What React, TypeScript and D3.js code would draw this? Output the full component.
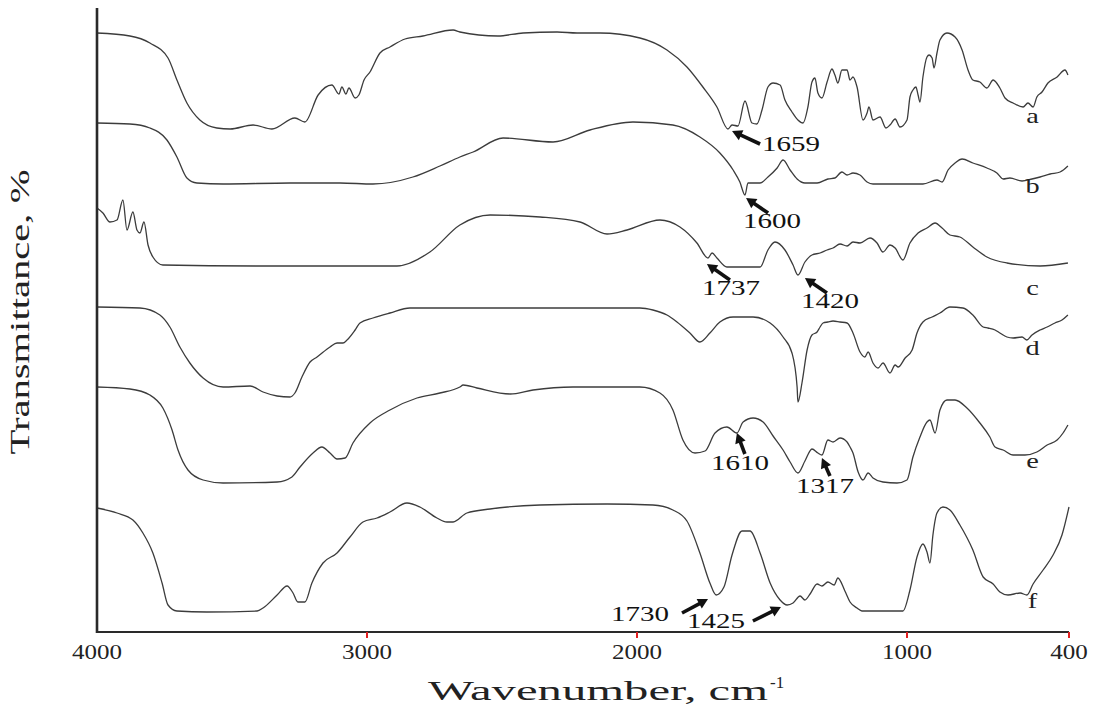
import React from "react";
import * as d3 from "d3";

// Wavenumber (cm-1) and relative transmittance (arbitrary offset units)
const CURVE_A: [number, number][] = [
  [4000,599],[3878,596],[3804,589],[3737,574],[3704,552],[3667,529],[3619,512],[3556,504],[3507,503],[3422,507],[3352,503],[3267,514],[3230,510],[3181,537],[3130,547],[3104,538],[3093,545],[3078,538],[3067,544],[3044,534],[3030,537],[3011,552],[2989,560],[2952,579],[2915,585],[2859,593],[2793,596],[2681,602],[2656,600],[2515,596],[2422,599],[2296,600],[2222,599],[2137,599],[1989,594],[1889,582],[1815,565],[1756,545],[1704,525],[1663,503],[1648,507],[1626,506],[1600,531],[1574,509],[1556,508],[1537,522],[1515,545],[1496,549],[1470,547],[1452,532],[1426,520],[1404,512],[1385,509],[1367,525],[1352,550],[1341,554],[1330,539],[1315,534],[1296,550],[1278,563],[1267,557],[1256,549],[1241,562],[1222,562],[1211,552],[1200,555],[1185,545],[1163,512],[1148,519],[1141,525],[1126,512],[1100,515],[1078,504],[1063,507],[1044,513],[1026,505],[1000,512],[989,535],[978,542],[967,545],[959,537],[952,530],[941,555],[926,575],[918,577],[907,574],[900,564],[889,579],[878,592],[852,599],[822,595],[796,582],[774,562],[756,552],[730,550],[704,544],[681,552],[656,544],[637,534],[607,529],[570,525],[552,529],[533,525],[519,535],[500,540],[478,549],[444,555],[415,562],[404,557]
];
const CURVE_B: [number, number][] = [
  [4000,509],[3878,508],[3804,504],[3741,492],[3704,475],[3667,454],[3630,449],[3533,448],[3285,449],[3100,449],[2978,448],[2830,455],[2730,466],[2656,475],[2607,480],[2496,494],[2311,490],[2174,502],[2015,510],[1867,507],[1767,495],[1693,479],[1644,462],[1619,450],[1600,437],[1589,449],[1544,449],[1515,455],[1481,464],[1459,472],[1433,462],[1407,453],[1378,449],[1333,449],[1293,453],[1267,454],[1241,460],[1222,457],[1200,459],[1174,457],[1148,450],[1126,448],[941,448],[889,452],[870,450],[848,462],[822,469],[796,473],[756,469],[704,464],[667,459],[644,453],[619,454],[574,451],[537,453],[507,455],[470,458],[433,460],[404,466]
];
const CURVE_C: [number, number][] = [
  [4000,424],[3978,419],[3952,410],[3926,412],[3904,432],[3889,402],[3867,420],[3852,402],[3841,399],[3826,410],[3811,387],[3793,375],[3756,367],[3407,366],[2889,366],[2767,380],[2656,407],[2544,417],[2359,415],[2211,410],[2111,398],[2037,402],[1915,412],[1841,405],[1778,389],[1737,374],[1722,379],[1704,374],[1667,365],[1544,365],[1515,382],[1489,390],[1452,382],[1422,367],[1404,357],[1378,370],[1352,377],[1322,379],[1296,382],[1274,384],[1248,388],[1222,386],[1200,390],[1174,389],[1137,394],[1111,389],[1089,380],[1063,387],[1044,384],[1015,372],[989,389],[959,399],[926,404],[896,409],[870,404],[841,397],[804,395],[756,385],[704,375],[630,369],[507,366],[404,369]
];
const CURVE_D: [number, number][] = [
  [4000,325],[3841,324],[3767,317],[3730,305],[3693,285],[3656,269],[3607,254],[3533,245],[3433,246],[3385,240],[3333,236],[3285,235],[3267,239],[3241,255],[3211,270],[3185,275],[3137,285],[3111,289],[3089,289],[3074,292],[3044,302],[3026,309],[2978,314],[2915,319],[2841,324],[2741,324],[2481,324],[2237,324],[1989,324],[1941,322],[1889,317],[1852,310],[1804,299],[1767,290],[1730,299],[1693,310],[1644,315],[1570,315],[1507,309],[1459,295],[1426,279],[1407,245],[1404,230],[1389,249],[1370,282],[1352,297],[1333,300],[1322,305],[1311,309],[1293,310],[1274,311],[1248,310],[1222,309],[1200,299],[1174,280],[1156,275],[1144,280],[1126,269],[1107,264],[1089,269],[1063,259],[1044,267],[1033,265],[1007,274],[981,282],[963,299],[941,310],[907,315],[878,319],[841,325],[793,324],[756,317],[718,305],[700,304],[674,302],[656,299],[630,295],[607,294],[574,295],[556,292],[537,297],[507,302],[481,305],[452,309],[426,312],[404,317]
];
const CURVE_E: [number, number][] = [
  [4000,245],[3878,243],[3804,237],[3756,224],[3722,202],[3700,182],[3663,162],[3607,152],[3533,149],[3333,150],[3278,155],[3248,165],[3200,179],[3167,185],[3137,179],[3111,173],[3081,174],[3052,189],[2989,209],[2915,222],[2815,234],[2730,239],[2656,245],[2644,247],[2593,244],[2470,238],[2385,242],[2237,245],[1989,245],[1915,239],[1867,222],[1830,192],[1785,179],[1748,181],[1711,199],[1667,205],[1630,199],[1607,210],[1570,214],[1533,210],[1496,196],[1459,182],[1433,170],[1404,159],[1378,171],[1352,183],[1330,179],[1315,177],[1293,192],[1274,190],[1248,194],[1222,190],[1211,185],[1200,179],[1181,160],[1163,152],[1144,159],[1126,154],[1089,150],[1037,149],[1000,152],[978,175],[952,195],[926,210],[915,212],[896,199],[878,222],[852,232],[822,232],[778,224],[730,209],[693,195],[674,185],[644,182],[607,177],[563,177],[519,180],[481,187],[444,192],[422,199],[404,207]
];
const CURVE_F: [number, number][] = [
  [4000,124],[3926,119],[3867,112],[3830,99],[3793,79],[3759,49],[3737,27],[3704,21],[3593,20],[3407,21],[3385,24],[3333,37],[3296,46],[3274,39],[3256,30],[3230,30],[3204,49],[3163,69],[3111,79],[3063,95],[3015,110],[2963,114],[2915,120],[2852,129],[2804,125],[2741,114],[2704,110],[2681,110],[2630,119],[2544,123],[2359,127],[2111,128],[1941,127],[1867,122],[1815,111],[1767,79],[1730,49],[1707,37],[1678,45],[1648,77],[1611,101],[1581,101],[1544,79],[1507,49],[1470,32],[1444,27],[1422,29],[1396,36],[1378,32],[1359,38],[1333,48],[1315,46],[1293,50],[1270,47],[1256,54],[1230,41],[1211,30],[1185,24],[1167,21],[1015,21],[989,42],[963,75],[941,88],[926,80],[915,69],[904,97],[889,119],[867,125],[841,122],[804,107],[756,82],[718,55],[681,48],[656,40],[626,37],[581,39],[556,37],[533,48],[496,62],[459,77],[426,97],[400,125]
];

const SERIES = [
  { name: "a", data: CURVE_A },
  { name: "b", data: CURVE_B },
  { name: "c", data: CURVE_C },
  { name: "d", data: CURVE_D },
  { name: "e", data: CURVE_E },
  { name: "f", data: CURVE_F },
];

// curve label placement level (transmittance units) for each series
const LABEL_LEVELS = [509, 439, 337, 277, 164, 24];

const X_TICKS = [4000, 3000, 2000, 1000, 400];
const RED_TICKS = [3000, 2000, 1000, 400];

// annotated bands: label, wavenumber of arrow tip, transmittance of arrow tip
const ANNOTATIONS: [string, number, number][] = [
  ["1659", 1648, 501],
  ["1600", 1596, 434],
  ["1737", 1741, 368],
  ["1420", 1378, 354],
  ["1610", 1630, 199],
  ["1317", 1315, 174],
  ["1730", 1737, 33],
  ["1425", 1467, 25],
];
// arrow tail and text offsets (px) relative to the tip
const ANNOTATION_LAYOUT: [number, number, number, number][] = [
  [28, 13, 59, 20],
  [22, 15, 26, 30],
  [23, 16, 24, 31],
  [22, 15, 25, 30],
  [8, 21, 3, 37],
  [8, 18, 3, 35],
  [-26, 14, -68, 22],
  [-28, 14, -65, 21],
];

const W = 1098;
const H = 708;
const LEFT = 97;
const RIGHT = 1069;
const TOP = 8;
const BOTTOM = 632;
const FONT = "'Liberation Serif', 'Times New Roman', serif";

function Arrow({ x1, y1, x2, y2 }: { x1: number; y1: number; x2: number; y2: number }) {
  const dx = x2 - x1;
  const dy = y2 - y1;
  const len = Math.hypot(dx, dy);
  const ux = dx / len;
  const uy = dy / len;
  const hl = 10;
  const hw = 5.5;
  const bx = x2 - ux * hl;
  const by = y2 - uy * hl;
  const px = -uy;
  const py = ux;
  const head = `M${x2},${y2} L${bx + px * hw},${by + py * hw} L${bx - px * hw},${by - py * hw} Z`;
  return (
    <g>
      <line x1={x1} y1={y1} x2={bx + ux * 2} y2={by + uy * 2} stroke="#111" strokeWidth={3.6} />
      <path d={head} fill="#111" />
    </g>
  );
}

export default function App() {
  const x = d3.scaleLinear().domain([4000, 400]).range([LEFT, RIGHT]);
  const y = d3.scaleLinear().domain([0, 624]).range([BOTTOM, TOP]);
  const line = d3
    .line<[number, number]>()
    .x((d) => x(d[0]))
    .y((d) => y(d[1]))
    .curve(d3.curveMonotoneX);

  return (
    <svg
      width={W}
      height={H}
      style={{ position: "absolute", left: 0, top: 0, background: "#fff" }}
      fontFamily={FONT}
    >
      <rect x={0} y={0} width={W} height={H} fill="#fff" />
      {SERIES.map((s) => (
        <path
          key={s.name}
          d={line([...s.data].sort((p, q) => q[0] - p[0])) || ""}
          fill="none"
          stroke="#3c3c3c"
          strokeWidth={1.3}
          strokeLinejoin="round"
        />
      ))}
      {SERIES.map((s, i) => (
        <text
          key={"l" + s.name}
          x={x(535)}
          y={y(LABEL_LEVELS[i])}
          fontSize={21}
          textAnchor="middle"
          fill="#222"
          transform={`translate(${x(535)},0) scale(1.35,1) translate(${-x(535)},0)`}
        >
          {s.name}
        </text>
      ))}
      {ANNOTATIONS.map((a, i) => {
        const tx = x(a[1]);
        const ty = y(a[2]);
        const [tdx, tdy, lx, ly] = ANNOTATION_LAYOUT[i];
        return (
          <g key={"a" + i}>
            <Arrow x1={tx + tdx} y1={ty + tdy} x2={tx} y2={ty} />
            <text
              x={tx + lx - 29}
              y={ty + ly}
              fontSize={20}
              fill="#111"
              textLength={58}
              lengthAdjust="spacingAndGlyphs"
            >
              {a[0]}
            </text>
          </g>
        );
      })}
      {/* axes */}
      <line x1={LEFT} y1={TOP} x2={LEFT} y2={BOTTOM + 1} stroke="#2a2a2a" strokeWidth={2.6} />
      <line x1={LEFT - 1} y1={BOTTOM} x2={RIGHT} y2={BOTTOM} stroke="#2a2a2a" strokeWidth={2} />
      {RED_TICKS.map((t) => (
        <line key={"rt" + t} x1={x(t)} y1={BOTTOM} x2={x(t)} y2={BOTTOM + 6} stroke="#e02020" strokeWidth={2} />
      ))}
      {X_TICKS.map((t) => {
        const label = String(t);
        return (
          <text
            key={"t" + t}
            x={x(t) - (label.length * 12.5) / 2}
            y={BOTTOM + 27}
            fontSize={21}
            fill="#222"
            textLength={label.length * 12.5}
            lengthAdjust="spacingAndGlyphs"
          >
            {label}
          </text>
        );
      })}
      <text x={428} y={H - 8} fontSize={27} fill="#222" textLength={340} lengthAdjust="spacingAndGlyphs">
        Wavenumber, cm
      </text>
      <text x={770} y={H - 20} fontSize={17} fill="#222">
        -1
      </text>
      <text
        transform={`translate(29,${(TOP + BOTTOM) / 2 - 8}) rotate(-90)`}
        textAnchor="middle"
        fontSize={27}
        fill="#222"
        textLength={285}
        lengthAdjust="spacingAndGlyphs"
      >
        Transmittance, %
      </text>
    </svg>
  );
}
